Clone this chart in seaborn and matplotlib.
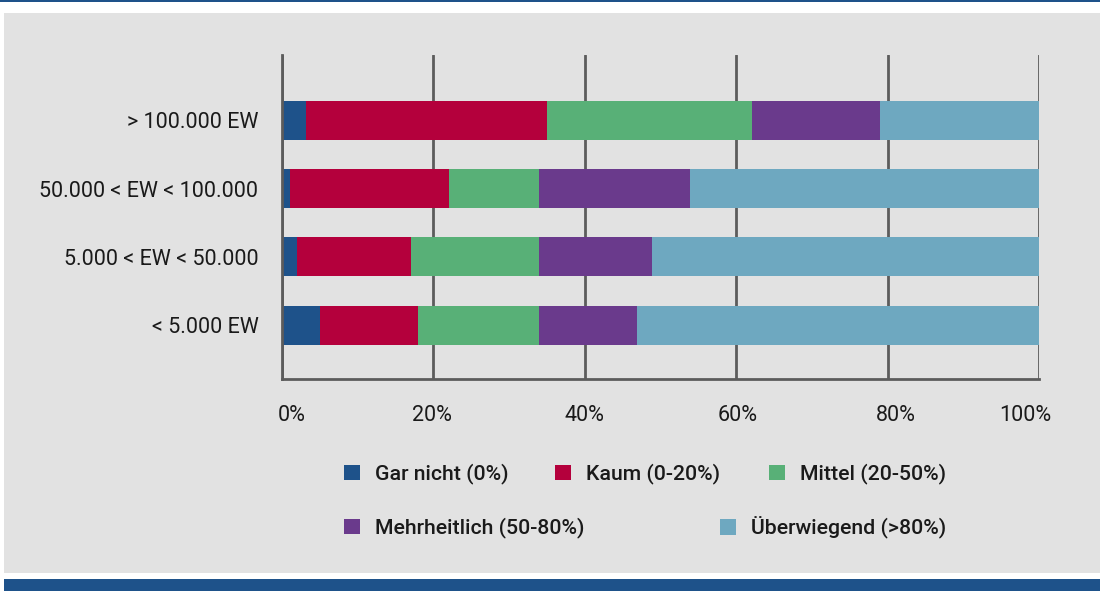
import numpy as np
import pandas as pd
import matplotlib
matplotlib.use("Agg")
import matplotlib.pyplot as plt
import matplotlib.transforms as mtransforms
from matplotlib.patches import Rectangle
import seaborn as sns

# ---------------- data ----------------
categories = ["> 100.000 EW", "50.000 < EW < 100.000", "5.000 < EW < 50.000", "< 5.000 EW"]
series_names = ["Gar nicht (0%)", "Kaum (0-20%)", "Mittel (20-50%)",
                "Mehrheitlich (50-80%)", "Überwiegend (>80%)"]
gar_nicht = [3.2, 1.1, 2.0, 5.0]
kaum = [31.8, 21.0, 15.0, 13.0]
mittel = [27.1, 11.8, 16.9, 15.9]
mehrheitlich = [16.9, 20.0, 15.0, 13.0]
ueberwiegend = [21.0, 46.1, 51.1, 53.1]
x_ticks = [0, 20, 40, 60, 80, 100]
x_tick_labels = ["0%", "20%", "40%", "60%", "80%", "100%"]

colors = ["#1e528a", "#b4003c", "#58b077", "#6a3a8c", "#6ea8c0"]
grid_col = "#5c5c5c"
bg_grey = "#e2e2e2"
frame_blue = "#1e528a"
text_col = "#1a1a1a"

W, H = 1100, 591
sns.set_theme(style="white")
plt.rcParams["font.family"] = ["Roboto", "DejaVu Sans"]

fig = plt.figure(figsize=(W / 100, H / 100), dpi=100)
fig.patch.set_facecolor("white")

def fx(x):
    return x / W

def fy(y):
    return 1 - y / H

# frame elements
fig.patches.append(Rectangle((fx(4), fy(573)), (W - 4) / W, 560 / H,
                             transform=fig.transFigure, facecolor=bg_grey,
                             edgecolor="none", zorder=-10))
fig.patches.append(Rectangle((fx(4), 0), (W - 4) / W, 12 / H,
                             transform=fig.transFigure, facecolor=frame_blue,
                             edgecolor="none", zorder=-10))
fig.patches.append(Rectangle((0, fy(2)), 1, 2 / H,
                             transform=fig.transFigure, facecolor=frame_blue,
                             edgecolor="none", zorder=-10))

ax = fig.add_axes([fx(282), fy(379), (1039 - 282) / W, (379 - 55) / H])
ax.set_facecolor("none")

# long-form data with cumulative values (stacked bars drawn back to front)
values = [gar_nicht, kaum, mittel, mehrheitlich, ueberwiegend]
cum = np.cumsum(np.array(values), axis=0)
for i in range(len(series_names) - 1, -1, -1):
    df = pd.DataFrame({"cat": categories, "val": cum[i]})
    sns.barplot(data=df, x="val", y="cat", order=categories, orient="h",
                color=colors[i], saturation=1, width=0.57, errorbar=None,
                linewidth=0, ax=ax, zorder=3)

# container order is reversed relative to series order
containers = list(ax.containers)[::-1]

ax.set_xlim(0, 100)
ax.set_ylim(3.79, -0.96)
ax.set_xticks(x_ticks)
ax.set_xticklabels(x_tick_labels)
ax.set_xlabel("")
ax.set_ylabel("")
ax.grid(axis="x", color=grid_col, linewidth=2, zorder=0)
ax.grid(axis="y", visible=False)
ax.set_axisbelow(True)
for s in ["top", "right"]:
    ax.spines[s].set_visible(False)
for s in ["left", "bottom"]:
    ax.spines[s].set_color(grid_col)
    ax.spines[s].set_linewidth(2)
    ax.spines[s].set_zorder(4)
ax.tick_params(axis="x", length=0, pad=19, labelsize=15.5, labelcolor=text_col)
ax.tick_params(axis="y", length=0, pad=17, labelsize=15.5, labelcolor=text_col)

# small label shifts as in reference
offsets_px = [10, -1, 0, 1, 8, -14]
for tick, dx in zip(ax.xaxis.get_major_ticks(), offsets_px):
    tick.label1.set_transform(tick.label1.get_transform() +
                              mtransforms.ScaledTranslation(dx / 100, 0, fig.dpi_scale_trans))

# legend: one entry each, positioned like the reference
leg_fs = 15.3
sq_px = 16
leg_pos = [(344, 474), (555, 474), (769, 474), (344, 528), (720, 528)]
for i, (px, py) in enumerate(leg_pos):
    lg = fig.legend(handles=[containers[i]], labels=[series_names[i]],
                    loc="center left", bbox_to_anchor=(fx(px), fy(py)),
                    frameon=False, borderpad=0, borderaxespad=0,
                    handlelength=sq_px * 0.72 / leg_fs, handleheight=sq_px * 0.72 / leg_fs,
                    handletextpad=15 * 0.72 / leg_fs,
                    prop={"family": ["Roboto", "DejaVu Sans"], "size": leg_fs, "weight": "medium"})
    for t in lg.get_texts():
        t.set_color(text_col)

fig.savefig("out.png", dpi=100, facecolor=fig.get_facecolor())
